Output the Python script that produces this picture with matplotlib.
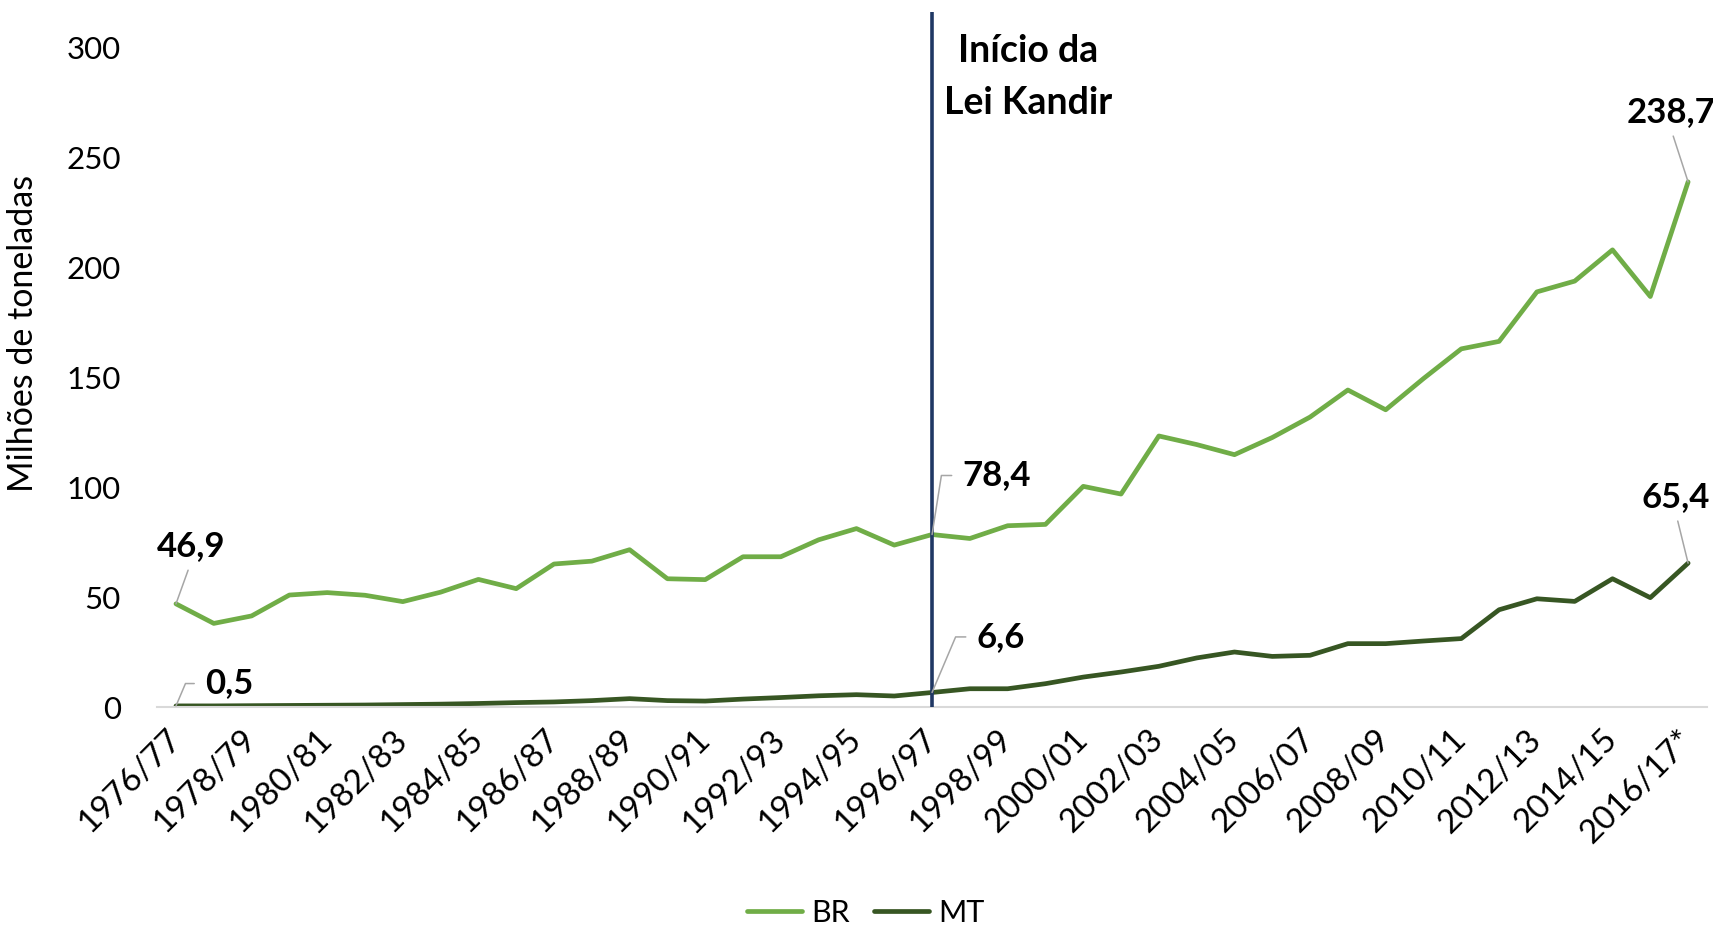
import matplotlib
matplotlib.use("Agg")
import matplotlib.pyplot as plt

plt.rcParams['font.family'] = ['Lato', 'DejaVu Sans']

# safras
safras = ['1976/77', '1977/78', '1978/79', '1979/80', '1980/81', '1981/82',
          '1982/83', '1983/84', '1984/85', '1985/86', '1986/87', '1987/88',
          '1988/89', '1989/90', '1990/91', '1991/92', '1992/93', '1993/94',
          '1994/95', '1995/96', '1996/97', '1997/98', '1998/99', '1999/00',
          '2000/01', '2001/02', '2002/03', '2003/04', '2004/05', '2005/06',
          '2006/07', '2007/08', '2008/09', '2009/10', '2010/11', '2011/12',
          '2012/13', '2013/14', '2014/15', '2015/16', '2016/17*']

# producao (milhoes de toneladas)
br = [46.9, 38.0, 41.4, 50.9, 52.0, 50.8, 47.9, 52.2, 58.0, 53.8,
      65.0, 66.3, 71.5, 58.3, 57.9, 68.3, 68.3, 76.0, 81.1, 73.6,
      78.4, 76.6, 82.4, 83.0, 100.3, 96.8, 123.2, 119.3, 114.7, 122.5,
      131.8, 144.1, 135.1, 149.3, 162.8, 166.2, 188.7, 193.6, 207.8, 186.6,
      238.7]
mt = [0.5, 0.5, 0.6, 0.7, 0.8, 0.9, 1.1, 1.3, 1.6, 2.0,
      2.3, 2.9, 3.8, 2.9, 2.7, 3.6, 4.3, 5.1, 5.6, 5.0,
      6.6, 8.3, 8.3, 10.6, 13.6, 15.9, 18.5, 22.3, 25.0, 23.0,
      23.5, 28.8, 28.8, 30.0, 31.1, 44.2, 49.2, 48.0, 58.3, 49.7,
      65.4]

cor_br = '#70ad47'
cor_mt = '#375623'
cinza = '#a6a6a6'

fig = plt.figure(figsize=(17.13, 9.26), dpi=100)
ax = fig.add_axes([0.0917, 0.2365, 0.9048, 0.7127])

x = list(range(len(safras)))
ax.plot(x, br, color=cor_br, lw=3.4, label='BR', solid_capstyle='round')
ax.plot(x, mt, color=cor_mt, lw=3.4, label='MT', solid_capstyle='round')

ax.set_xlim(-0.5, len(safras) - 0.5)
ax.set_ylim(0, 300)
ax.set_yticks([0, 50, 100, 150, 200, 250, 300])
ax.set_xticks(x[::2])
ax.set_xticklabels(safras[::2], rotation=45, ha='right', va='center',
                   rotation_mode='anchor', fontsize=24)
ax.tick_params(axis='y', length=0, pad=26, labelsize=22.5)
ax.tick_params(axis='x', length=0, pad=20)
for s in ['top', 'right', 'left']:
    ax.spines[s].set_visible(False)
ax.spines['bottom'].set_color('#d9d9d9')
ax.spines['bottom'].set_linewidth(1.5)
ax.set_ylabel('Milhões de toneladas', fontsize=24.5)
ax.yaxis.set_label_coords(-0.0765, 0.566)

# Lei Kandir
i_lei = safras.index('1996/97')
ax.vlines(i_lei, 0, 316, color='#203864', lw=2.6, clip_on=False, zorder=3)
ax.text(i_lei + 2.55, 286.5, 'Início da\nLei Kandir', ha='center', va='center',
        fontsize=27, fontweight='bold', linespacing=1.65)


def rotulo(i, serie, dx, dy, cotovelo=None):
    v = serie[i]
    txt = f'{v:.1f}'.replace('.', ',')
    if cotovelo is None:
        ap = dict(arrowstyle='-', color=cinza, lw=1.1, relpos=(0.5, 0),
                  shrinkA=4, shrinkB=0)
    else:
        ap = dict(arrowstyle='-', color=cinza, lw=1.1, relpos=(0, 0.5),
                  shrinkA=6, shrinkB=0,
                  connectionstyle=f'angle,angleA=0,angleB={cotovelo},rad=0')
    ax.annotate(txt, xy=(i, v), xytext=(dx, dy), textcoords='offset points',
                ha='center', va='center', fontsize=25, fontweight='bold',
                arrowprops=ap, zorder=4)


rotulo(0, br, 10.8, 41.5)
rotulo(0, mt, 38.5, 16.1, cotovelo=67)
rotulo(i_lei, br, 46.8, 42.5, cotovelo=81)
rotulo(i_lei, mt, 49.7, 40.0, cotovelo=67)
rotulo(len(safras) - 1, br, -12.6, 50.3)
rotulo(len(safras) - 1, mt, -8.9, 47.7)

fig.legend(loc='center', bbox_to_anchor=(0.5055, 0.014), ncol=2, frameon=False,
           fontsize=22, handlelength=1.8, handletextpad=0.3, columnspacing=0.8)

fig.savefig('out.png', dpi=100, facecolor='white')
